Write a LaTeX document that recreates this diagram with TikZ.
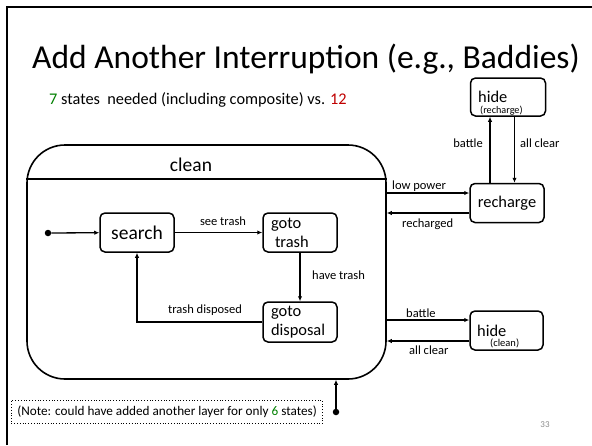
\documentclass[tikz,border=0pt]{standalone}
\usepackage{fontspec}
\setmainfont{Carlito}
\usetikzlibrary{arrows.meta}
\definecolor{okgreen}{RGB}{0,128,0}
\definecolor{badred}{RGB}{192,0,0}
\definecolor{pagenum}{RGB}{140,140,140}

\begin{document}
\begin{tikzpicture}[x=1pt,y=-1pt,
  state/.style={draw, line width=1.5pt, rounded corners=5pt, inner sep=0pt,
                minimum width=74pt, minimum height=39pt},
  twoline/.style={state, align=left, text width=58pt, inner xsep=8pt,
                  font=\fontsize{16.4}{19}\selectfont},
  arr/.style={line width=1.3pt, -{Latex[length=5pt,width=4.5pt]}},
  lbl/.style={font=\fontsize{12.5}{14}\selectfont, inner sep=0pt},
  dotnode/.style={circle, fill=black, inner sep=0pt, minimum size=6.5pt},
]
\useasboundingbox (0,0) rectangle (592,445);
\fill[white] (0,0) rectangle (592,445);

% slide frame
\draw[line width=2.2pt] (7,445) -- (7,7) -- (592,7);

% heading and subtitle
\node[font=\fontsize{33.5}{40}\selectfont, anchor=base, inner sep=0pt] (title) at (306,68)
  {Add Another Interruption (e.g., Baddies)};
\node[font=\fontsize{16.3}{19}\selectfont, anchor=base west, inner sep=0pt] (count) at (49,104)
  {\textcolor{okgreen}{7} states\ \ needed (including composite) vs. \textcolor{badred}{12}};

% composite state "clean"
\node[draw, line width=1.6pt, rounded corners=38pt, minimum width=359pt, minimum height=234pt,
      inner sep=0pt] (clean) at (206.5,262) {};
\draw[line width=1.6pt] (clean.west |- 0,179) -- (clean.east |- 0,179);
\node[font=\fontsize{19.5}{22}\selectfont, anchor=base, inner sep=0pt] (cleanlbl) at (191,171) {clean};

% inner states
\node[state, font=\fontsize{19.5}{22}\selectfont] (search) at (137,232.5) {search};
\node[twoline] (gototrash) at (300,232.5) {goto\\\hspace{4pt}trash};
\node[twoline, minimum height=40pt] (gotodisp) at (300,322) {goto\\disposal};
\node[dotnode] (init) at (48,233) {};

\draw[arr] (init) -- (search);
\draw[arr] (search) -- (gototrash);
\node[lbl, anchor=base] (lseetrash) at (223,225) {see trash};
\draw[arr] (gototrash) -- (gotodisp);
\node[lbl, anchor=base west] (lhavetrash) at (312,279) {have trash};
\draw[arr] (gotodisp.west) -| (search.south);
\node[lbl, anchor=base] (ldisposed) at (205,313) {trash disposed};

% outer states
\node[state, font=\fontsize{16.4}{19}\selectfont] (recharge) at (507,203) {recharge};
\node[state, minimum width=75pt, minimum height=38pt] (hiderc) at (508,97) {};
\node[font=\fontsize{16.4}{19}\selectfont, anchor=base west, inner sep=0pt] (hidercA) at (478,102) {hide};
\node[font=\fontsize{10.2}{12}\selectfont, anchor=base west, inner sep=0pt] (hidercB) at (480,113) {(recharge)};
\node[state, minimum width=73pt, minimum height=39pt] (hidecl) at (506.5,330.5) {};
\node[font=\fontsize{16.4}{19}\selectfont, anchor=base west, inner sep=0pt] (hideclA) at (477,336) {hide};
\node[font=\fontsize{10.5}{12}\selectfont, anchor=base west, inner sep=0pt] (hideclB) at (490,346.5) {(clean)};

% transitions between clean and recharge
\draw[arr] ([yshift=10pt]recharge.west -| clean.east) -- ([yshift=10pt]recharge.west);
\node[lbl, anchor=base west] (llow) at (392,189) {low power};
\draw[arr] ([yshift=-10pt]recharge.west) -- ([yshift=-10pt]recharge.west -| clean.east);
\node[lbl, anchor=base west] (lrech) at (402,227) {recharged};

% transitions between recharge and hide
\draw[arr] ([xshift=-17pt]recharge.north) -- ([xshift=-17pt]recharge.north |- hiderc.south);
\node[lbl, anchor=base east] (lbattleA) at (483,147.5) {battle};
\draw[arr] ([xshift=6.5pt]hiderc.south) -- ([xshift=6.5pt]hiderc.south |- recharge.north);
\node[lbl, anchor=base west] (lclearA) at (520,147.5) {all clear};

% transitions between clean and hide
\draw[arr] ([yshift=10.5pt]hidecl.west -| clean.east) -- ([yshift=10.5pt]hidecl.west);
\node[lbl, anchor=base west] (lbattleB) at (406,317) {battle};
\draw[arr] ([yshift=-10.5pt]hidecl.west) -- ([yshift=-10.5pt]hidecl.west -| clean.east);
\node[lbl, anchor=base west] (lclearB) at (409,354.5) {all clear};

% entry into clean from below
\node[dotnode] (entry) at (336,412) {};
\draw[arr] (entry) -- (entry |- clean.south);

% footnote
\node[draw, dotted, line width=0.8pt, anchor=north west, inner xsep=6pt, inner ysep=0pt,
      minimum height=23pt, font=\fontsize{13.2}{15}\selectfont] (note) at (11,400)
  {(Note: could have added another layer for only \textcolor{okgreen}{6} states)};

\node[font=\fontsize{9}{10}\selectfont, text=pagenum, inner sep=0pt] (pg) at (545,425) {33};
\end{tikzpicture}
\end{document}
